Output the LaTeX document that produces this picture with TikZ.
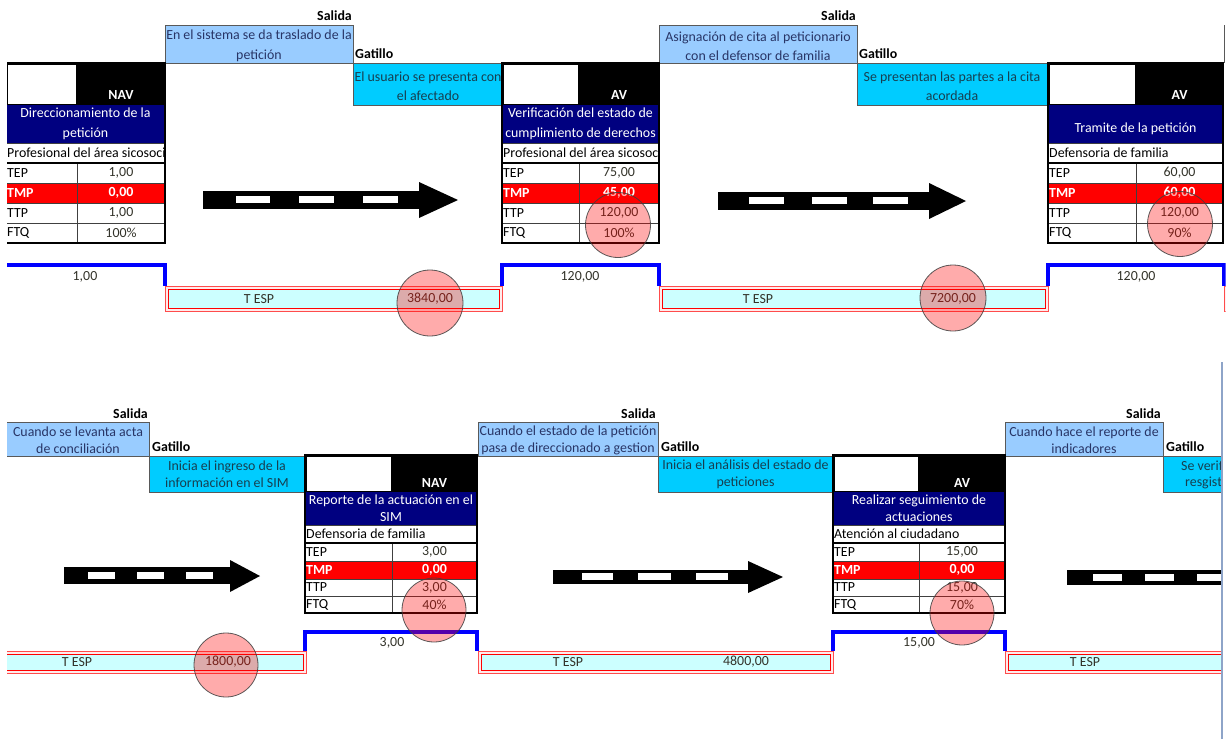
\documentclass[tikz,border=0pt]{standalone}
\usepackage{fontspec}
\setmainfont{Carlito}
\definecolor{salblue}{HTML}{99CCFF}
\definecolor{gatcyan}{HTML}{00CCFF}
\definecolor{hdrnavy}{HTML}{000080}
\definecolor{tmpred}{HTML}{FF0000}
\definecolor{tespfill}{HTML}{CCFFFF}
\definecolor{boxtext}{HTML}{283566}
\definecolor{gattext}{HTML}{173F50}
\definecolor{valtext}{HTML}{33332A}
\definecolor{stepblue}{HTML}{0000FF}
\definecolor{sideline}{HTML}{8EA4C8}
\newcommand\fsA{\fontsize{13.9}{19.5}\selectfont}
\newcommand\fsB{\fontsize{13.9}{17}\selectfont}
\let\fs\fsA
\tikzset{
  salbox/.style={fill=salblue, draw=black!65, line width=0.9pt},
  gatbox/.style={fill=gatcyan, draw=black!65, line width=0.9pt},
  boxtxt/.style={align=center, font=\fs, text=boxtext, inner sep=0pt},
  gattxt/.style={align=center, font=\fs, text=gattext, inner sep=0pt},
  kwtxt/.style={font=\fs\bfseries, inner sep=0pt},
  tagtxt/.style={font=\fs\bfseries, text=white, inner sep=0pt},
  hdrtxt/.style={align=center, font=\fs, text=white, inner sep=0pt},
  celltxt/.style={font=\fs, text=black, inner sep=0pt},
  valtxt/.style={font=\fs, text=valtext, inner sep=0pt},
  redtxt/.style={font=\fs\bfseries, text=white, inner sep=0pt},
  gridline/.style={draw=black!75, line width=0.8pt},
  outerline/.style={draw=black, line width=1.5pt},
  stepline/.style={draw=stepblue, line width=3.2pt},
  tespouter/.style={fill=red!8, draw=red!70, line width=1pt},
  tespinner/.style={fill=tespfill, draw=red, line width=1pt},
  hilite/.style={circle, inner sep=0pt, fill=red, fill opacity=0.33, draw=black!75, draw opacity=0.85, line width=0.8pt},
  arrowbody/.style={fill=black},
  dashbox/.style={fill=white},
}
% block: #1 name, #2 tag, #3 header, #4 responsible, #5 TEP, #6 TMP, #7 TTP, #8 FTQ
\newcommand\procblock[8]{%
  \fill[black] (\bx,\yA) rectangle (\bz,\yB);
  \fill[white] (\bx+1.5,\yA+1.5) rectangle (\bd-1,\yB-1.5);
  \node[tagtxt] (#1tag) at ({(\bd+\bz)/2},\tagy) {#2};
  \fill[hdrnavy] (\bx,\yB) rectangle (\bz,\yC);
  \node[hdrtxt] (#1hdr) at ({(\bx+\bz)/2},{(\yB+\yC)/2}) {#3};
  \fill[tmpred] (\bx,\yE) rectangle (\bz,\yF);
  \begin{scope}
    \clip (\bx,\yC) rectangle (\bz,\yD);
    \node[celltxt,anchor=west] (#1resp) at (\bx+1,{(\yC+\yD)/2}) {#4};
  \end{scope}
  \draw[gridline] (\bx,\yC) -- (\bz,\yC) (\bx,\yE) -- (\bz,\yE)
    (\bx,\yF) -- (\bz,\yF) (\bx,\yG) -- (\bz,\yG) (\bd,\yD) -- (\bd,\yH);
  \draw[outerline] (\bx,\yA) rectangle (\bz,\yH);
  \draw[outerline] (\bx,\yD) -- (\bz,\yD);
  \node[celltxt,anchor=west] (#1lA) at (\bx+1,{(\yD+\yE)/2}) {TEP};
  \node[redtxt,anchor=west] (#1lB) at (\bx+1,{(\yE+\yF)/2}) {TMP};
  \node[celltxt,anchor=west] (#1lC) at (\bx+1,{(\yF+\yG)/2}) {TTP};
  \node[celltxt,anchor=west] (#1lD) at (\bx+1,{(\yG+\yH)/2}) {FTQ};
  \node[valtxt] (#1vA) at ({(\bd+\bz)/2},{(\yD+\yE)/2}) {#5};
  \node[redtxt] (#1vB) at ({(\bd+\bz)/2},{(\yE+\yF)/2}) {#6};
  \node[valtxt] (#1vC) at ({(\bd+\bz)/2},{(\yF+\yG)/2}) {#7};
  \node[valtxt] (#1vD) at ({(\bd+\bz)/2},{(\yG+\yH)/2}) {#8};
}
% T ESP box: x1,y1,x2,y2
\newcommand\tespbox[4]{%
  \draw[tespouter] (#1,#2) rectangle (#3,#4);
  \draw[tespinner] (#1+3,#2+3) rectangle (#3-3,#4-3);
}
\begin{document}
\begin{tikzpicture}[x=1pt,y=-1pt]
\fill[white] (0,0) rectangle (1232,739);
\useasboundingbox (0,0) rectangle (1232,739);

% ================= TOP ROW =================
\begin{scope}
\clip (7,0) rectangle (1225.5,350);
\let\fs\fsA
\def\yA{63}\def\yB{105}\def\yC{143}\def\yD{163}\def\yE{183}\def\yF{203}\def\yG{223}\def\yH{243}\def\tagy{95}

% salida / gatillo 1
\node[kwtxt,anchor=east] (salA) at (352,16) {Salida};
\draw[salbox] (165,25) rectangle (353,63);
\node[boxtxt] (salAt) at (259,46) {En el sistema se da traslado de la\\petición};
\node[kwtxt,anchor=west] (gatA) at (355,54) {Gatillo};
\draw[gatbox] (353,63) rectangle (502,105);
\node[gattxt] (gatAt) at (428,86) {El usuario se presenta con\\el afectado};

% salida / gatillo 2
\node[kwtxt,anchor=east] (salB) at (856,16) {Salida};
\draw[salbox] (659,25) rectangle (857,63);
\node[boxtxt] (salBt) at (758,46) {Asignación de cita al peticionario\\con el defensor de familia};
\node[kwtxt,anchor=west] (gatB) at (859,54) {Gatillo};
\draw[gatbox] (857,63) rectangle (1048,105);
\node[gattxt] (gatBt) at (952,86) {Se presentan las partes a la cita\\acordada};
\draw[black!65, line width=0.9pt] (1224,25) -- (1224,63);

% blocks
\def\bx{6}\def\bd{77}\def\bz{165}
\procblock{tA}{NAV}{Direccionamiento de la\\petición}{Profesional del área sicosocial}{1,00}{0,00}{1,00}{100\%}
\def\bx{502}\def\bd{579}\def\bz{659}
\procblock{tB}{AV}{Verificación del estado de\\cumplimiento de derechos}{Profesional del área sicosocial}{75,00}{45,00}{120,00}{100\%}
\def\bx{1048}\def\bd{1136}\def\bz{1223}
\procblock{tC}{AV}{\mbox{}\\Tramite de la petición}{Defensoria de familia}{60,00}{60,00}{120,00}{90\%}

% arrows
\fill[arrowbody] (203,191) rectangle (420,209);
\fill[arrowbody] (419,182) -- (458,200) -- (419,218) -- cycle;
\fill[dashbox] (236,196) rectangle (270,203);
\fill[dashbox] (299,196) rectangle (334,203);
\fill[dashbox] (363,196) rectangle (398,203);

\fill[arrowbody] (718,192) rectangle (930,210);
\fill[arrowbody] (929,183) -- (966,201) -- (929,219) -- cycle;
\fill[dashbox] (749,197) rectangle (784,204);
\fill[dashbox] (812,197) rectangle (847,204);
\fill[dashbox] (873,197) rectangle (908,204);

% timeline
\tespbox{165}{286}{502}{311.5}
\tespbox{659}{286}{1048}{311.5}
\tespbox{1224}{286}{1280}{311.5}
\draw[stepline] (6,265) coordinate (sA0) -- (165,265) -- (165,286) coordinate (sA1);
\draw[stepline] (502,286) coordinate (sB0) -- (502,265) -- (659,265) -- (659,286) coordinate (sB1);
\draw[stepline] (1048,286) coordinate (sC0) -- (1048,265) -- (1224,265) -- (1224,286) coordinate (sC1);
\node[valtxt] (ttA) at (85,277) {1,00};
\node[valtxt] (ttB) at (580,277) {120,00};
\node[valtxt] (ttC) at (1136,277) {120,00};
\node[valtxt] (teA) at (259,299) {T ESP};
\node[valtxt] (tvA) at (430,299) {3840,00};
\node[valtxt] (teB) at (758,299) {T ESP};
\node[valtxt] (tvB) at (953,299) {7200,00};

% highlights
\node[hilite, minimum size=66pt] (cA) at (430,303) {};
\node[hilite, minimum size=65pt] (cB) at (618,225) {};
\node[hilite, minimum size=66pt] (cC) at (953,298) {};
\node[hilite, minimum size=65pt] (cD) at (1180,224) {};
\end{scope}

% ================= BOTTOM ROW =================
\begin{scope}
\clip (7,350) rectangle (1221,739);
\let\fs\fsB
\def\yA{455}\def\yB{492}\def\yC{525}\def\yD{543}\def\yE{561}\def\yF{579}\def\yG{596}\def\yH{613}\def\tagy{483}

\node[kwtxt,anchor=east] (salC) at (148,414) {Salida};
\draw[salbox] (0,422) rectangle (149,456);
\node[boxtxt] (salCt) at (78,440.5) {Cuando se levanta acta\\de conciliación};
\node[kwtxt,anchor=west] (gatC) at (152,447) {Gatillo};
\draw[gatbox] (149,456) rectangle (305,492);
\node[gattxt] (gatCt) at (227,474.5) {Inicia el ingreso de la\\información en el SIM};

\node[kwtxt,anchor=east] (salD) at (656,414) {Salida};
\draw[salbox] (478,422) rectangle (658,456);
\node[boxtxt] (salDt) at (568,440.5) {Cuando el estado de la petición\\pasa de direccionado a gestion};
\node[kwtxt,anchor=west] (gatD) at (661,447) {Gatillo};
\draw[gatbox] (658,456) rectangle (833,492);
\node[gattxt] (gatDt) at (745.5,474.5) {Inicia el análisis del estado de\\peticiones};

\node[kwtxt,anchor=east] (salE) at (1161,414) {Salida};
\draw[salbox] (1005,422) rectangle (1163,456);
\node[boxtxt] (salEt) at (1084,440.5) {Cuando hace el reporte de\\indicadores};
\node[kwtxt,anchor=west] (gatE) at (1166,447) {Gatillo};
\draw[gatbox] (1163,456) rectangle (1280,492);
\node[gattxt,anchor=west] (gatEt1) at (1181,466) {Se verif};
\node[gattxt,anchor=west] (gatEt2) at (1185,483) {resgist};

\def\bx{305}\def\bd{392}\def\bz{477}
\procblock{bA}{NAV}{Reporte de la actuación en el\\SIM}{Defensoria de familia}{3,00}{0,00}{3,00}{40\%}
\def\bx{833}\def\bd{919}\def\bz{1005}
\procblock{bB}{AV}{Realizar seguimiento de\\actuaciones}{Atención al ciudadano}{15,00}{0,00}{15,00}{70\%}

% arrows
\fill[arrowbody] (64,567) rectangle (231,584);
\fill[arrowbody] (230,560) -- (260,576) -- (230,592) -- cycle;
\fill[dashbox] (88,572) rectangle (115,579);
\fill[dashbox] (137,572) rectangle (164,579);
\fill[dashbox] (186,572) rectangle (213,579);

\fill[arrowbody] (553,570) rectangle (749,584);
\fill[arrowbody] (748,561) -- (783,577) -- (748,593) -- cycle;
\fill[dashbox] (582,573) rectangle (613,580);
\fill[dashbox] (638,573) rectangle (671,580);
\fill[dashbox] (696,573) rectangle (728,580);

\fill[arrowbody] (1067,570) rectangle (1280,585);
\fill[dashbox] (1093,574) rectangle (1122,581);
\fill[dashbox] (1145,574) rectangle (1174,581);
\fill[dashbox] (1197,574) rectangle (1226,581);

% timeline
\tespbox{-10}{651}{306}{673}
\tespbox{478}{651}{833}{673}
\tespbox{1005}{651}{1280}{673}
\draw[stepline] (305,651) coordinate (sD0) -- (305,632) -- (477,632) -- (477,651) coordinate (sD1);
\draw[stepline] (833,651) coordinate (sE0) -- (833,632) -- (1005,632) -- (1005,651) coordinate (sE1);
\node[valtxt] (ttD) at (392,643) {3,00};
\node[valtxt] (ttE) at (919,643) {15,00};
\node[valtxt] (teC) at (77,662) {T ESP};
\node[valtxt] (tvC) at (228,662) {1800,00};
\node[valtxt] (teD) at (568,662) {T ESP};
\node[valtxt] (tvD) at (746,662) {4800,00};
\node[valtxt] (teE) at (1085,662) {T ESP};

\node[hilite, minimum size=64pt] (cE) at (226,665) {};
\node[hilite, minimum size=64pt] (cF) at (434,610) {};
\node[hilite, minimum size=64pt] (cG) at (962,613) {};
\end{scope}

\draw[sideline, line width=1.5pt] (1221.8,362) coordinate (slA) -- (1221.8,739) coordinate (slB);
\end{tikzpicture}
\end{document}
